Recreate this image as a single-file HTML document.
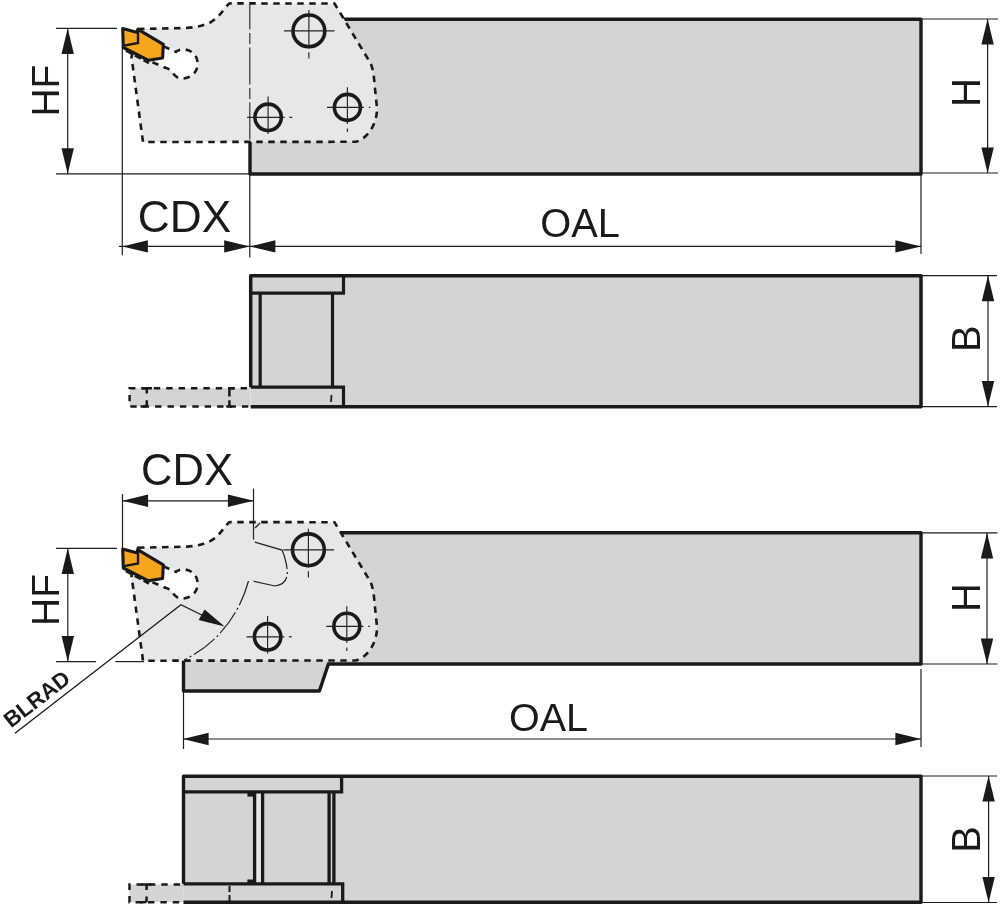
<!DOCTYPE html>
<html><head><meta charset="utf-8"><style>
html,body{margin:0;padding:0;background:#fff;width:1000px;height:907px;overflow:hidden}
svg{display:block;will-change:transform}
text{font-family:"Liberation Sans", sans-serif}
</style></head><body>
<svg width="1000" height="907" viewBox="0 0 1000 907">
<rect width="1000" height="907" fill="#fff"/>
<rect x="250" y="19.2" width="671" height="154.8" fill="#d3d4d6" stroke="#1a1a1a" stroke-width="3.4" stroke-linejoin="round"/>
<path transform="translate(0,0.0)" d="M 138 29 L 186 28 C 197 27.4, 205 25, 211 22 C 217 18.5, 221 13.5, 225 8 L 229 3.6 C 229.5 3.4, 230 3.4, 231 3.4 L 334.5 3.5 L 369.5 61.5 C 372.5 66, 373.8 74, 374.6 85 L 377 108 C 377.4 122, 369 138, 356 141.8 L 143 142 L 131.5 57 Z" fill="#e6e7e9" stroke="#1a1a1a" stroke-width="2.6" stroke-dasharray="6.5 5.5"/>
<path transform="translate(0,0.0)" d="M 163.4 46.3 L 176 51.9 C 178 50, 180.5 49.5, 183 49.4 C 191 49.5, 197.7 55, 197.7 63.8 C 197.7 72, 191 78.5, 182 78.5 C 177 78.5, 174 75, 171.8 71.5 C 170 69.5, 168 68.5, 166 68 L 149.4 61 Z" fill="#ffffff" stroke="#1a1a1a" stroke-width="2.6" stroke-dasharray="6.5 5.5"/>

<g transform="translate(0,0.0)">
<path d="M 126 50.5 L 149 63" stroke="#1a1a1a" stroke-width="2.6" stroke-dasharray="7 3"/>
<polygon points="122.7,28.6 136.5,32.2 138,29.4 163.3,44.3 162.6,58 148.5,60.3 123.3,47.5" fill="#f7a51c" stroke="#1a1a1a" stroke-width="3.1" stroke-linejoin="round"/>
<path d="M 124 45.6 L 138 43 L 138 30" fill="none" stroke="#1a1a1a" stroke-width="2.4"/>
</g>
<line x1="249.8" y1="3.6" x2="249.8" y2="142.0" stroke="#333" stroke-width="1.20" stroke-dasharray="37 3.5 11 3.5" stroke-dashoffset="11"/>
<circle cx="308.9" cy="30.9" r="15.9" fill="none" stroke="#1a1a1a" stroke-width="3.6"/>
<line x1="283.9" y1="30.9" x2="334.6" y2="30.9" stroke="#222" stroke-width="1.15" />
<line x1="308.9" y1="9.9" x2="308.9" y2="48.6" stroke="#222" stroke-width="1.15" />
<line x1="308.9" y1="52.3" x2="308.9" y2="58.5" stroke="#222" stroke-width="1.15" />
<circle cx="268.1" cy="117.3" r="13.2" fill="none" stroke="#1a1a1a" stroke-width="3.6"/>
<line x1="247.1" y1="117.3" x2="284.7" y2="117.3" stroke="#222" stroke-width="1.15" />
<line x1="289.3" y1="117.3" x2="292.3" y2="117.3" stroke="#222" stroke-width="1.15" />
<line x1="268.1" y1="96.6" x2="268.1" y2="134.0" stroke="#222" stroke-width="1.15" />
<circle cx="347.4" cy="107.4" r="13.0" fill="none" stroke="#1a1a1a" stroke-width="3.6"/>
<line x1="327.0" y1="107.4" x2="364.0" y2="107.4" stroke="#222" stroke-width="1.15" />
<line x1="368.8" y1="107.4" x2="370.4" y2="107.4" stroke="#222" stroke-width="1.15" />
<line x1="347.4" y1="87.3" x2="347.4" y2="124.0" stroke="#222" stroke-width="1.15" />
<line x1="347.4" y1="128.6" x2="347.4" y2="132.0" stroke="#222" stroke-width="1.15" />
<line x1="56.0" y1="28.3" x2="117.0" y2="28.3" stroke="#1e1e1e" stroke-width="1.20" />
<line x1="56.0" y1="173.8" x2="249.0" y2="173.8" stroke="#1e1e1e" stroke-width="1.20" />
<line x1="67.7" y1="28.3" x2="67.7" y2="173.8" stroke="#1e1e1e" stroke-width="1.20" />
<polygon points="67.7,28.3 61.5,53.9 73.9,53.9" fill="#1a1a1a"/>
<polygon points="67.7,173.8 61.5,148.2 73.9,148.2" fill="#1a1a1a"/>
<line x1="122.3" y1="47.0" x2="122.3" y2="255.2" stroke="#1e1e1e" stroke-width="1.20" />
<line x1="249.8" y1="174.0" x2="249.8" y2="257.6" stroke="#1e1e1e" stroke-width="1.20" />
<line x1="921.0" y1="174.0" x2="921.0" y2="254.0" stroke="#1e1e1e" stroke-width="1.20" />
<line x1="119.0" y1="246.4" x2="249.8" y2="246.4" stroke="#1e1e1e" stroke-width="1.20" />
<polygon points="122.3,246.4 147.9,240.2 147.9,252.6" fill="#1a1a1a"/>
<polygon points="249.8,246.4 224.2,240.2 224.2,252.6" fill="#1a1a1a"/>
<line x1="249.8" y1="246.4" x2="921.0" y2="246.4" stroke="#1e1e1e" stroke-width="1.20" />
<polygon points="249.8,246.4 275.4,240.2 275.4,252.6" fill="#1a1a1a"/>
<polygon points="921.0,246.4 895.4,240.2 895.4,252.6" fill="#1a1a1a"/>
<line x1="921.0" y1="19.0" x2="998.0" y2="19.0" stroke="#1e1e1e" stroke-width="1.20" />
<line x1="921.0" y1="173.0" x2="998.0" y2="173.0" stroke="#1e1e1e" stroke-width="1.20" />
<line x1="987.6" y1="19.0" x2="987.6" y2="173.0" stroke="#1e1e1e" stroke-width="1.20" />
<polygon points="987.6,19.0 981.4,44.6 993.8,44.6" fill="#1a1a1a"/>
<polygon points="987.6,173.0 981.4,147.4 993.8,147.4" fill="#1a1a1a"/>
<text transform="translate(59.1,90.6) rotate(-90.00)" font-size="39.0" text-anchor="middle" font-weight="normal" fill="#1a1a1a">HF</text>
<text transform="translate(184.5,232.0)" font-size="44.2" text-anchor="middle" font-weight="normal" fill="#1a1a1a">CDX</text>
<text transform="translate(580.0,237.1)" font-size="39.8" text-anchor="middle" font-weight="normal" fill="#1a1a1a">OAL</text>
<text transform="translate(980.0,92.4) rotate(-90.00)" font-size="40.3" text-anchor="middle" font-weight="normal" fill="#1a1a1a">H</text>
<path d="M 250.5 388.3 L 129.6 388.3 L 129.6 406.6 L 250.5 406.6" fill="#d3d4d6" stroke="#1a1a1a" stroke-width="2.5" stroke-dasharray="6.4 6" stroke-dashoffset="8.9"/>
<path d="M 141.5 388.3 L 152 388.3 M 146.8 388.3 L 146.8 393.5 M 146.8 400.2 L 146.8 404 Q 146.8 406.6 144 406.6 L 140.5 406.6 M 234.6 388.3 L 229.4 388.3 L 229.4 396.6 M 229.4 400.2 L 229.4 406.6 M 226.3 406.6 L 232 406.6" fill="none" stroke="#1a1a1a" stroke-width="2.5"/>
<rect x="250.7" y="275.8" width="670.3" height="130.9" fill="#d3d4d6"/>
<path d="M 250.7 387.2 L 250.7 275.8 L 921 275.8 L 921 406.7 L 250.7 406.7" fill="none" stroke="#1a1a1a" stroke-width="3.5" stroke-linejoin="round"/>
<path d="M 250.7 293.2 L 343.5 293.2 L 343.5 275.8 M 250.7 387.2 L 343.5 387.2 L 343.5 406.7 M 260.2 293.2 L 260.2 387.2 M 332.5 293.2 L 332.5 387.2" fill="none" stroke="#1a1a1a" stroke-width="3.2"/>
<line x1="331.5" y1="395.0" x2="331.0" y2="402.0" stroke="#1a1a1a" stroke-width="1.80" />
<line x1="921.0" y1="275.6" x2="997.0" y2="275.6" stroke="#1e1e1e" stroke-width="1.20" />
<line x1="921.0" y1="406.6" x2="997.0" y2="406.6" stroke="#1e1e1e" stroke-width="1.20" />
<line x1="988.0" y1="275.6" x2="988.0" y2="406.6" stroke="#1e1e1e" stroke-width="1.20" />
<polygon points="988.0,275.6 981.8,301.2 994.2,301.2" fill="#1a1a1a"/>
<polygon points="988.0,406.6 981.8,381.0 994.2,381.0" fill="#1a1a1a"/>
<text transform="translate(979.7,338.6) rotate(-90.00)" font-size="40.0" text-anchor="middle" font-weight="normal" fill="#1a1a1a">B</text>
<polygon points="300,532.7 921,532.7 921,664 328.4,664 319.4,691 183.5,691 183.5,652 260,600" fill="#d3d4d6" stroke="#1a1a1a" stroke-width="3.4" stroke-linejoin="round"/>
<path transform="translate(0,518.7)" d="M 138 29 L 186 28 C 197 27.4, 205 25, 211 22 C 217 18.5, 221 13.5, 225 8 L 229 3.6 C 229.5 3.4, 230 3.4, 231 3.4 L 334.5 3.5 L 369.5 61.5 C 372.5 66, 373.8 74, 374.6 85 L 377 108 C 377.4 122, 369 138, 356 141.8 L 143 142 L 131.5 57 Z" fill="#e6e7e9" stroke="#1a1a1a" stroke-width="2.6" stroke-dasharray="6.5 5.5"/>
<path transform="translate(0,520.0)" d="M 163.4 46.3 L 176 51.9 C 178 50, 180.5 49.5, 183 49.4 C 191 49.5, 197.7 55, 197.7 63.8 C 197.7 72, 191 78.5, 182 78.5 C 177 78.5, 174 75, 171.8 71.5 C 170 69.5, 168 68.5, 166 68 L 149.4 61 Z" fill="#ffffff" stroke="#1a1a1a" stroke-width="2.6" stroke-dasharray="6.5 5.5"/>

<g transform="translate(0,520.5)">
<path d="M 126 50.5 L 149 63" stroke="#1a1a1a" stroke-width="2.6" stroke-dasharray="7 3"/>
<polygon points="122.7,28.6 136.5,32.2 138,29.4 163.3,44.3 162.6,58 148.5,60.3 123.3,47.5" fill="#f7a51c" stroke="#1a1a1a" stroke-width="3.1" stroke-linejoin="round"/>
<path d="M 124 45.6 L 138 43 L 138 30" fill="none" stroke="#1a1a1a" stroke-width="2.4"/>
</g>
<path d="M 253.5 488.6 L 253.5 539.5" fill="none" stroke="#222" stroke-width="1.2"/>
<path d="M 255 528 L 260 523" fill="none" stroke="#222" stroke-width="1.2"/>
<path d="M 254.8 542.2 L 282 550.1 L 284 555 C 286 562, 287.5 568, 287.3 574 C 287 580, 283 585, 275 586 L 253.5 581.2" fill="none" stroke="#222" stroke-width="1.2" stroke-dasharray="48 3 2 3"/>
<path d="M 248.5 581 C 242 605, 225 640, 184 660" fill="none" stroke="#222" stroke-width="1.2" stroke-dasharray="26 3 2 3"/>
<circle cx="308.4" cy="549.8" r="15.9" fill="none" stroke="#1a1a1a" stroke-width="3.6"/>
<line x1="283.4" y1="549.8" x2="334.1" y2="549.8" stroke="#222" stroke-width="1.15" />
<line x1="308.4" y1="528.8" x2="308.4" y2="567.5" stroke="#222" stroke-width="1.15" />
<line x1="308.4" y1="571.2" x2="308.4" y2="577.4" stroke="#222" stroke-width="1.15" />
<circle cx="267.6" cy="636.8" r="13.2" fill="none" stroke="#1a1a1a" stroke-width="3.6"/>
<line x1="246.6" y1="636.8" x2="284.2" y2="636.8" stroke="#222" stroke-width="1.15" />
<line x1="288.8" y1="636.8" x2="291.8" y2="636.8" stroke="#222" stroke-width="1.15" />
<line x1="267.6" y1="616.1" x2="267.6" y2="653.5" stroke="#222" stroke-width="1.15" />
<circle cx="346.8" cy="626.3" r="13.0" fill="none" stroke="#1a1a1a" stroke-width="3.6"/>
<line x1="326.4" y1="626.3" x2="363.4" y2="626.3" stroke="#222" stroke-width="1.15" />
<line x1="368.2" y1="626.3" x2="369.8" y2="626.3" stroke="#222" stroke-width="1.15" />
<line x1="346.8" y1="606.2" x2="346.8" y2="642.9" stroke="#222" stroke-width="1.15" />
<line x1="346.8" y1="647.5" x2="346.8" y2="650.9" stroke="#222" stroke-width="1.15" />
<path d="M 15 733.2 L 180.9 604.7 L 222 625" fill="none" stroke="#1a1a1a" stroke-width="1.3"/>
<polygon points="224.6,626.4 198.6,619.9 204.6,609.4" fill="#1a1a1a"/>
<text transform="translate(11.0,728.4) rotate(-37.80)" font-size="22.0" text-anchor="start" font-weight="bold" fill="#1a1a1a">BLRAD</text>
<line x1="56.0" y1="548.3" x2="117.0" y2="548.3" stroke="#1e1e1e" stroke-width="1.20" />
<line x1="56.0" y1="661.6" x2="96.0" y2="661.6" stroke="#1e1e1e" stroke-width="1.20" />
<line x1="115.4" y1="661.6" x2="144.0" y2="661.6" stroke="#1e1e1e" stroke-width="1.20" />
<line x1="67.8" y1="548.3" x2="67.8" y2="661.6" stroke="#1e1e1e" stroke-width="1.20" />
<polygon points="67.8,548.3 61.6,573.9 74.0,573.9" fill="#1a1a1a"/>
<polygon points="67.8,661.6 61.6,636.0 74.0,636.0" fill="#1a1a1a"/>
<text transform="translate(59.0,600.0) rotate(-90.00)" font-size="39.0" text-anchor="middle" font-weight="normal" fill="#1a1a1a">HF</text>
<line x1="122.5" y1="494.0" x2="122.5" y2="549.0" stroke="#1e1e1e" stroke-width="1.20" />
<line x1="122.5" y1="500.8" x2="253.5" y2="500.8" stroke="#1e1e1e" stroke-width="1.20" />
<polygon points="122.5,500.8 148.1,494.6 148.1,507.0" fill="#1a1a1a"/>
<polygon points="253.5,500.8 227.9,494.6 227.9,507.0" fill="#1a1a1a"/>
<text transform="translate(187.0,485.0)" font-size="43.5" text-anchor="middle" font-weight="normal" fill="#1a1a1a">CDX</text>
<line x1="183.5" y1="692.0" x2="183.5" y2="749.0" stroke="#1e1e1e" stroke-width="1.20" />
<line x1="921.0" y1="669.0" x2="921.0" y2="747.0" stroke="#1e1e1e" stroke-width="1.20" />
<line x1="183.0" y1="739.0" x2="921.0" y2="739.0" stroke="#1e1e1e" stroke-width="1.20" />
<polygon points="183.0,739.0 208.6,732.8 208.6,745.2" fill="#1a1a1a"/>
<polygon points="921.0,739.0 895.4,732.8 895.4,745.2" fill="#1a1a1a"/>
<text transform="translate(548.5,730.8)" font-size="39.5" text-anchor="middle" font-weight="normal" fill="#1a1a1a">OAL</text>
<line x1="922.0" y1="532.9" x2="997.5" y2="532.9" stroke="#1e1e1e" stroke-width="1.20" />
<line x1="922.0" y1="664.0" x2="997.5" y2="664.0" stroke="#1e1e1e" stroke-width="1.20" />
<line x1="987.0" y1="532.9" x2="987.0" y2="664.0" stroke="#1e1e1e" stroke-width="1.20" />
<polygon points="987.0,532.9 980.8,558.5 993.2,558.5" fill="#1a1a1a"/>
<polygon points="987.0,664.0 980.8,638.4 993.2,638.4" fill="#1a1a1a"/>
<text transform="translate(980.1,597.5) rotate(-90.00)" font-size="40.0" text-anchor="middle" font-weight="normal" fill="#1a1a1a">H</text>
<path d="M 183.5 884.6 L 129.5 884.6 L 129.5 902.3 L 183.5 902.3" fill="#d3d4d6" stroke="#1a1a1a" stroke-width="2.5" stroke-dasharray="6.4 6" stroke-dashoffset="9"/>
<path d="M 141.8 884.6 L 151.5 884.6 M 146.6 884.6 L 146.6 890 M 146.6 896.5 L 146.6 899.8 Q 146.6 902.3 144 902.3 L 140.5 902.3" fill="none" stroke="#1a1a1a" stroke-width="2.5"/>
<rect x="183.5" y="776.2" width="737.5" height="126.1" fill="#d3d4d6"/>
<path d="M 183.5 883.8 L 183.5 776.2 L 921 776.2 L 921 902.3 L 183.5 902.3" fill="none" stroke="#1a1a1a" stroke-width="3.4" stroke-linejoin="round"/>
<rect x="256" y="793" width="5" height="89" fill="#e4e5e6"/>
<rect x="247.4" y="792" width="8" height="4.6" fill="#1a1a1a"/>
<rect x="247.4" y="879.5" width="8" height="4" fill="#1a1a1a"/>
<path d="M 183.5 791.8 L 341.6 791.8 L 341.6 776.2 M 183.5 883.8 L 342.7 883.8 L 342.7 902.2 M 254.6 791.9 L 254.6 883.8 M 262.6 791.9 L 262.6 883.8 M 329.1 791.9 L 329.1 883.8 M 333.9 791.9 L 333.9 883.8" fill="none" stroke="#1a1a1a" stroke-width="3.3"/>
<line x1="229.5" y1="886.0" x2="229.5" y2="901.0" stroke="#1a1a1a" stroke-width="2.00" stroke-dasharray="6 3"/>
<line x1="332.0" y1="891.0" x2="331.5" y2="898.0" stroke="#1a1a1a" stroke-width="1.80" />
<line x1="922.0" y1="776.0" x2="997.0" y2="776.0" stroke="#1e1e1e" stroke-width="1.20" />
<line x1="922.0" y1="902.5" x2="997.0" y2="902.5" stroke="#1e1e1e" stroke-width="1.20" />
<line x1="988.6" y1="776.0" x2="988.6" y2="902.5" stroke="#1e1e1e" stroke-width="1.20" />
<polygon points="988.6,776.0 982.4,801.6 994.8,801.6" fill="#1a1a1a"/>
<polygon points="988.6,902.5 982.4,876.9 994.8,876.9" fill="#1a1a1a"/>
<text transform="translate(979.8,839.4) rotate(-90.00)" font-size="40.0" text-anchor="middle" font-weight="normal" fill="#1a1a1a">B</text>
</svg>
</body></html>
